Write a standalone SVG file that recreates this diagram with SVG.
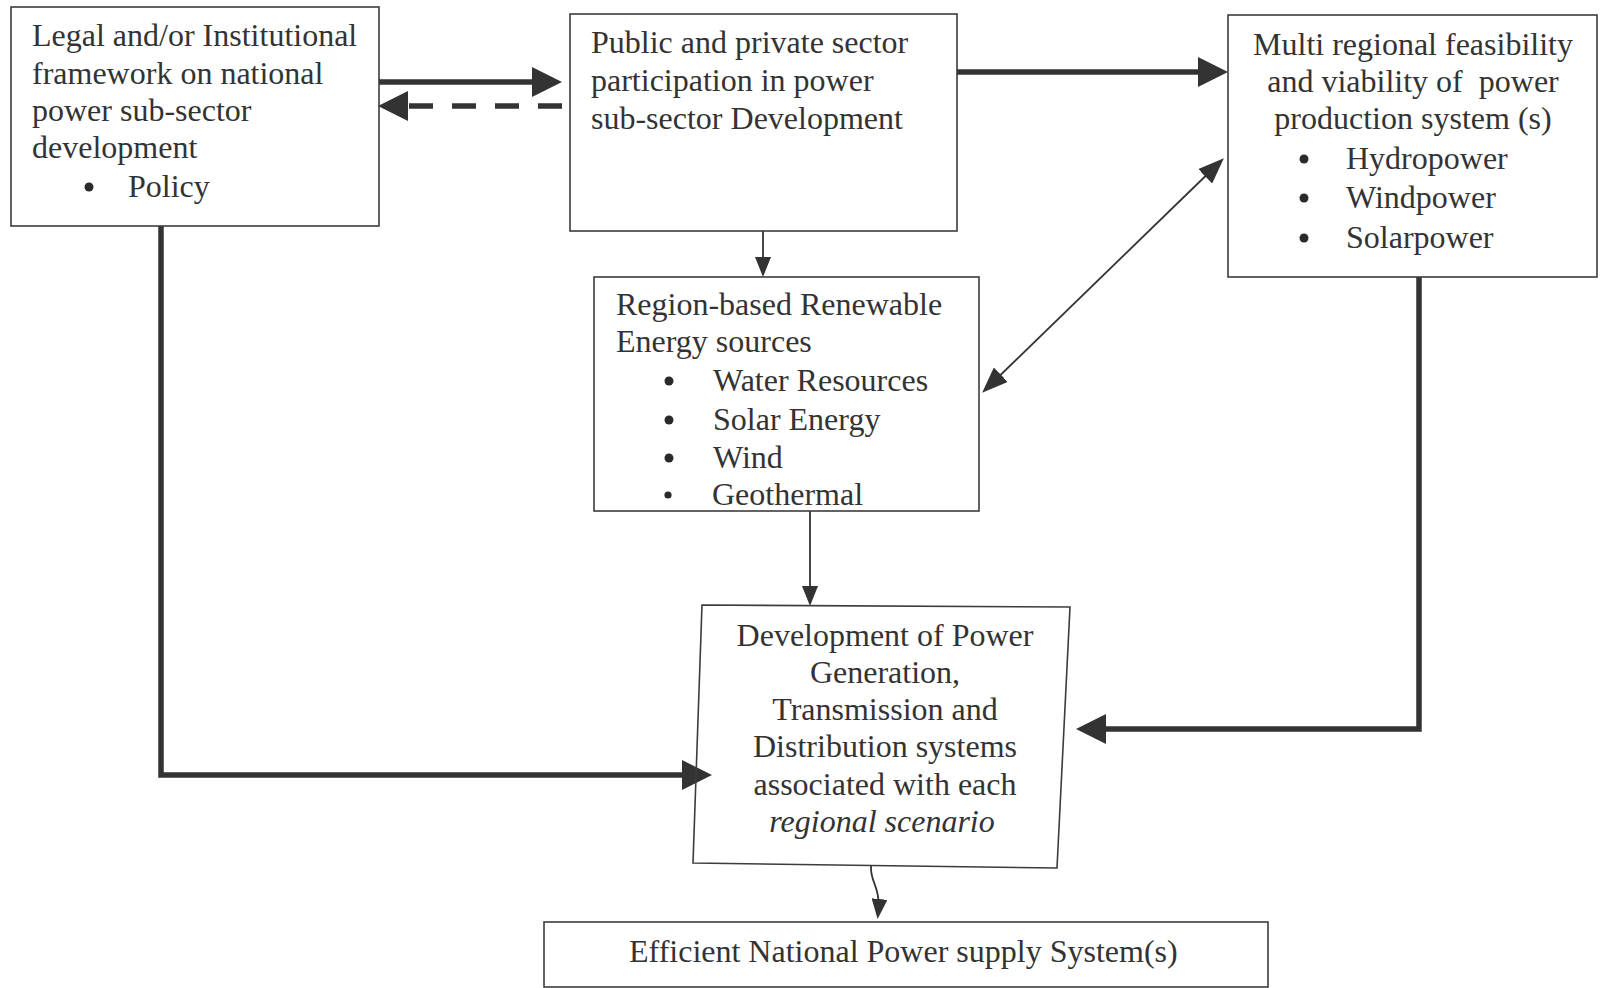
<svg xmlns="http://www.w3.org/2000/svg" width="1606" height="988" viewBox="0 0 1606 988">
<style>
.box{fill:none;stroke:#3c3c3c;stroke-width:1.6}
.t{font-family:"Liberation Serif","Times New Roman",serif;font-size:32px;fill:#333}
.dot{fill:#2a2a2a}
.c{text-anchor:middle}
.thick{fill:none;stroke:#333;stroke-width:5.5}
.thin{fill:none;stroke:#333;stroke-width:1.8}
.dash{stroke-dasharray:24 19}
</style>
<defs>
<marker id="ah" viewBox="0 0 30 30" refX="20" refY="15" markerWidth="30" markerHeight="30" markerUnits="userSpaceOnUse" orient="auto"><path d="M0,0 L30,15 L0,30 Z" fill="#333"/></marker>
<marker id="as" viewBox="0 0 20 16" refX="16" refY="8" markerWidth="20" markerHeight="16" markerUnits="userSpaceOnUse" orient="auto"><path d="M0,0 L20,8 L0,16 Z" fill="#333"/></marker>
<marker id="ad" viewBox="0 0 26 20" refX="22" refY="10" markerWidth="26" markerHeight="20" markerUnits="userSpaceOnUse" orient="auto-start-reverse"><path d="M0,0 L26,10 L0,20 Z" fill="#333"/></marker>
</defs>
<rect width="1606" height="988" fill="#fff"/>
<g id="connectors">
<line class="thick" x1="379" y1="82" x2="552" y2="82" marker-end="url(#ah)"/>
<line class="thick dash" x1="562" y1="106" x2="388" y2="106" marker-end="url(#ah)"/>
<line class="thick" x1="957" y1="72" x2="1218" y2="72" marker-end="url(#ah)"/>
<line class="thin" x1="763" y1="231" x2="763" y2="273" marker-end="url(#as)"/>
<line class="thin" x1="985" y1="390" x2="1221" y2="161" marker-start="url(#ad)" marker-end="url(#ad)"/>
<line class="thin" x1="810" y1="511" x2="810" y2="602" marker-end="url(#as)"/>
<polyline class="thick" points="1419,277 1419,729 1086,729" marker-end="url(#ah)"/>
<polyline class="thick" points="161,226 161,775 702,775" marker-end="url(#ah)"/>
<path class="thin" d="M871,866 C870,884 881,884 878,915" marker-end="url(#as)"/>
</g>
<g id="legal">
<rect class="box" x="11" y="7" width="368" height="219"/>
<text class="t" x="32" y="46">Legal and/or Institutional</text>
<text class="t" x="32" y="84">framework on national</text>
<text class="t" x="32" y="121">power sub-sector</text>
<text class="t" x="32" y="158">development</text>
<circle class="dot" cx="89" cy="187" r="4.5"/>
<text class="t" x="128" y="197">Policy</text>
</g>
<g id="public">
<rect class="box" x="570" y="14" width="387" height="217"/>
<text class="t" x="591" y="53">Public and private sector</text>
<text class="t" x="591" y="91">participation in power</text>
<text class="t" x="591" y="129">sub-sector Development</text>
</g>
<g id="multi">
<rect class="box" x="1228" y="15" width="369" height="262"/>
<text class="t c" x="1413" y="55">Multi regional feasibility</text>
<text class="t c" x="1413" y="92" xml:space="preserve">and viability of  power</text>
<text class="t c" x="1413" y="129">production system (s)</text>
<circle class="dot" cx="1304" cy="159" r="4.5"/>
<text class="t" x="1346" y="169">Hydropower</text>
<circle class="dot" cx="1304" cy="198" r="4.5"/>
<text class="t" x="1346" y="208">Windpower</text>
<circle class="dot" cx="1304" cy="238" r="4.5"/>
<text class="t" x="1346" y="248">Solarpower</text>
</g>
<g id="region">
<rect class="box" x="594" y="277" width="385" height="234"/>
<text class="t" x="616" y="315">Region-based Renewable</text>
<text class="t" x="616" y="352">Energy sources</text>
<circle class="dot" cx="669" cy="381" r="4.5"/>
<text class="t" x="713" y="391">Water Resources</text>
<circle class="dot" cx="669" cy="420" r="4.5"/>
<text class="t" x="713" y="430">Solar Energy</text>
<circle class="dot" cx="669" cy="458" r="4.5"/>
<text class="t" x="713" y="468">Wind</text>
<circle class="dot" cx="668" cy="495" r="3.6"/>
<text class="t" x="712" y="505">Geothermal</text>
</g>
<g id="development">
<polygon class="box" points="702,605 1070,607 1057,868 693,863"/>
<text class="t c" x="885" y="646">Development of Power</text>
<text class="t c" x="885" y="683">Generation,</text>
<text class="t c" x="885" y="720">Transmission and</text>
<text class="t c" x="885" y="757">Distribution systems</text>
<text class="t c" x="885" y="795">associated with each</text>
<text class="t c" x="882" y="832" font-style="italic">regional scenario</text>
</g>
<g id="efficient">
<rect class="box" x="544" y="922" width="724" height="65"/>
<text class="t" x="629" y="962">Efficient National Power supply System(s)</text>
</g>
</svg>
